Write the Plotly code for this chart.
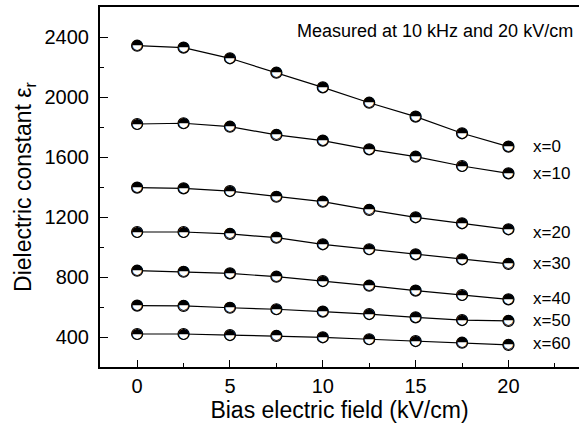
import plotly.graph_objects as go

field = [0, 2.5, 5, 7.5, 10, 12.5, 15, 17.5, 20]
series_names = ["x=0", "x=10", "x=20", "x=30", "x=40", "x=50", "x=60"]
eps_x0 = [2342, 2329, 2258, 2162, 2064, 1962, 1869, 1758, 1669]
eps_x10 = [1820, 1825, 1802, 1747, 1709, 1651, 1602, 1540, 1491]
eps_x20 = [1396, 1391, 1373, 1335, 1302, 1247, 1198, 1158, 1118]
eps_x30 = [1100, 1100, 1087, 1062, 1018, 985, 951, 918, 887]
eps_x40 = [842, 835, 824, 802, 773, 742, 709, 680, 651]
eps_x50 = [609, 607, 595, 585, 569, 553, 531, 513, 507]
eps_x60 = [420, 420, 413, 407, 398, 385, 373, 362, 347]
all_series = [eps_x0, eps_x10, eps_x20, eps_x30, eps_x40, eps_x50, eps_x60]
label_y = [1669, 1491, 1100, 887, 660, 510, 360]
label_x = 21.2

FONT = "Liberation Sans, Arial, sans-serif"

fig = go.Figure()
for name, ys in zip(series_names, all_series):
    fig.add_trace(go.Scatter(
        x=field, y=ys, mode="lines+markers", name=name,
        line=dict(color="black", width=1.2),
        marker=dict(symbol="circle", size=11, color="white",
                    line=dict(color="black", width=1.2)),
        showlegend=False, cliponaxis=False,
    ))
    fig.add_trace(go.Scatter(
        x=field, y=ys, mode="text", text=["\u25d3"] * len(field),
        textposition="middle center",
        textfont=dict(family="DejaVu Sans", size=14, color="black"),
        showlegend=False, cliponaxis=False, hoverinfo="skip",
    ))

for name, ly in zip(series_names, label_y):
    fig.add_annotation(x=label_x, y=ly, text=name, showarrow=False,
                       xanchor="left", yanchor="middle",
                       font=dict(family=FONT, size=17, color="black"))

fig.add_annotation(x=1, y=1, xref="paper", yref="paper",
                   text="Measured at 10 kHz and 20 kV/cm", showarrow=False,
                   xanchor="right", yanchor="top", xshift=-4, yshift=-12,
                   font=dict(family=FONT, size=18, color="black"))

fig.update_layout(
    width=579, height=431,
    margin=dict(l=100, r=0, t=7, b=64),
    paper_bgcolor="white", plot_bgcolor="white",
    font=dict(family=FONT, color="black"),
    xaxis=dict(
        range=[-2, 23.8], tickvals=[0, 5, 10, 15, 20],
        showgrid=False, zeroline=False,
        showline=True, linecolor="black", linewidth=2, mirror=True,
        ticks="inside", ticklen=7, tickwidth=1.2, tickcolor="black",
        minor=dict(tickvals=[2.5, 7.5, 12.5, 17.5, 22.5], ticks="inside",
                   ticklen=4, tickwidth=1.2, tickcolor="black"),
        tickfont=dict(size=20),
        title=dict(text="Bias electric field (kV/cm)", font=dict(size=23), standoff=2),
    ),
    yaxis=dict(
        range=[200, 2600], tickvals=[400, 800, 1200, 1600, 2000, 2400],
        showgrid=False, zeroline=False,
        showline=True, linecolor="black", linewidth=2,
        ticks="inside", ticklen=8, tickwidth=1.2, tickcolor="black",
        minor=dict(tickvals=[600, 1000, 1400, 1800, 2200], ticks="inside",
                   ticklen=4, tickwidth=1.2, tickcolor="black"),
        tickfont=dict(size=20), ticklabelstandoff=5,
        title=dict(text="Dielectric constant \u03b5<sub>r</sub>", font=dict(size=23), standoff=6),
    ),
)

fig.write_html("out.html")
